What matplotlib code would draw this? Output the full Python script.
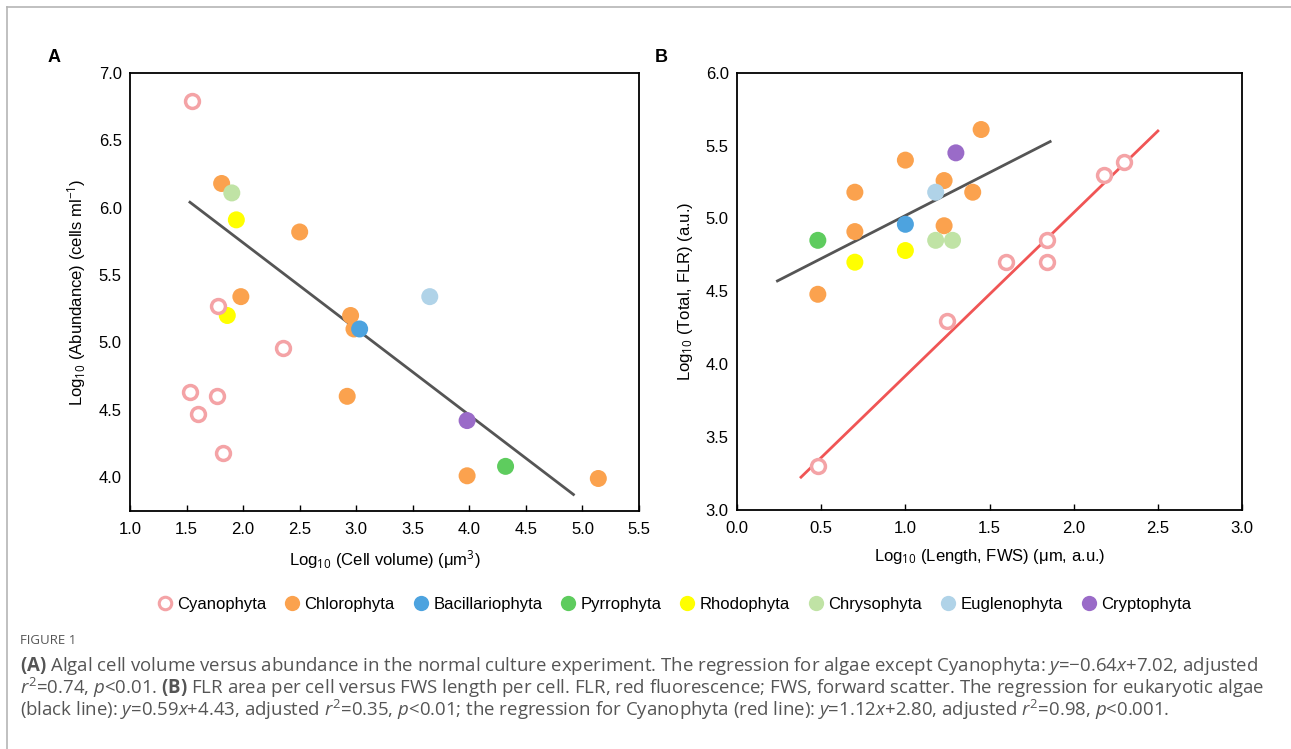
import matplotlib
matplotlib.use("Agg")
import matplotlib.pyplot as plt
from matplotlib.lines import Line2D
import numpy as np

plt.rcParams['font.family'] = ['Liberation Sans', 'DejaVu Sans']
plt.rcParams['mathtext.fontset'] = 'custom'
plt.rcParams['mathtext.rm'] = 'Open Sans'
plt.rcParams['mathtext.it'] = 'Open Sans:italic'
plt.rcParams['mathtext.bf'] = 'Open Sans:bold'

groups = ["Cyanophyta", "Chlorophyta", "Bacillariophyta", "Pyrrophyta",
          "Rhodophyta", "Chrysophyta", "Euglenophyta", "Cryptophyta"]
colors = ["#F4A3A6", "#FBA24E", "#4DA3DF", "#5ECC5E",
          "#FFFF00", "#C0E3A5", "#B0D3E8", "#9A6BC8"]

# panel A: log10 cell volume vs log10 abundance
a_x = {
    "Cyanophyta": [1.55, 1.78, 2.35, 1.53, 1.77, 1.60, 1.82],
    "Chlorophyta": [1.81, 2.50, 1.98, 2.95, 2.98, 2.92, 3.98, 5.14],
    "Bacillariophyta": [3.03],
    "Pyrrophyta": [4.32],
    "Rhodophyta": [1.94, 1.86],
    "Chrysophyta": [1.90],
    "Euglenophyta": [3.65],
    "Cryptophyta": [3.98],
}
a_y = {
    "Cyanophyta": [6.79, 5.27, 4.96, 4.63, 4.60, 4.47, 4.18],
    "Chlorophyta": [6.18, 5.82, 5.34, 5.20, 5.10, 4.60, 4.01, 3.99],
    "Bacillariophyta": [5.10],
    "Pyrrophyta": [4.08],
    "Rhodophyta": [5.91, 5.20],
    "Chrysophyta": [6.11],
    "Euglenophyta": [5.34],
    "Cryptophyta": [4.42],
}
a_fit = (-0.64, 7.02)
a_fit_range = (1.53, 4.92)

# panel B: log10 FWS length vs log10 total FLR
b_x = {
    "Cyanophyta": [0.48, 1.25, 1.60, 1.84, 1.84, 2.18, 2.30],
    "Chlorophyta": [0.48, 0.70, 0.70, 1.00, 1.23, 1.23, 1.40, 1.45],
    "Bacillariophyta": [1.00],
    "Pyrrophyta": [0.48],
    "Rhodophyta": [0.70, 1.00],
    "Chrysophyta": [1.18, 1.28],
    "Euglenophyta": [1.18],
    "Cryptophyta": [1.30],
}
b_y = {
    "Cyanophyta": [3.30, 4.30, 4.70, 4.85, 4.70, 5.30, 5.39],
    "Chlorophyta": [4.48, 5.18, 4.91, 5.40, 5.26, 4.95, 5.18, 5.61],
    "Bacillariophyta": [4.96],
    "Pyrrophyta": [4.85],
    "Rhodophyta": [4.70, 4.78],
    "Chrysophyta": [4.85, 4.85],
    "Euglenophyta": [5.18],
    "Cryptophyta": [5.45],
}
b_fit_euk = (0.59, 4.43)
b_fit_euk_range = (0.24, 1.86)
b_fit_cyano = (1.12, 2.80)
b_fit_cyano_range = (0.38, 2.50)

fig = plt.figure(figsize=(12.91, 7.49), dpi=100)
axA = fig.add_axes([0.1007, 0.318, 0.3943, 0.5845])
axB = fig.add_axes([0.5709, 0.319, 0.3912, 0.584])


def scatter_groups(ax, xs, ys):
    # filled dots below, open cyano circles on top
    for g, c in zip(groups, colors):
        if g == "Cyanophyta":
            ax.scatter(xs[g], ys[g], s=100, facecolors="white", edgecolors=c,
                       linewidths=2.5, zorder=4)
        else:
            ax.scatter(xs[g], ys[g], s=150, color=c, edgecolors="none", zorder=3)


def fit_line(ax, fit, rng, color):
    xx = np.array(rng)
    ax.plot(xx, fit[0] * xx + fit[1], color=color, lw=2, zorder=2)


def style(ax):
    for sp in ax.spines.values():
        sp.set_linewidth(1.3)
        sp.set_color("black")
    ax.tick_params(axis="x", direction="in", length=4, width=1, labelsize=12, pad=8)
    ax.tick_params(axis="y", length=0, labelsize=12, pad=6)


scatter_groups(axA, a_x, a_y)
fit_line(axA, a_fit, a_fit_range, "#555555")
axA.set_xlim(1.0, 5.5)
axA.set_ylim(3.75, 7.0)
axA.set_xticks(np.arange(1.0, 5.51, 0.5))
axA.set_yticks(np.arange(4.0, 7.01, 0.5))
axA.set_xticklabels([f"{v:.1f}" for v in np.arange(1.0, 5.51, 0.5)])
axA.set_yticklabels([f"{v:.1f}" for v in np.arange(4.0, 7.01, 0.5)])
style(axA)
axA.set_xlabel(r"Log$_{10}$ (Cell volume) (μm$^{3}$)", fontsize=12, labelpad=8)
axA.set_ylabel(r"Log$_{10}$ (Abundance) (cells ml$^{-1}$)", fontsize=12, labelpad=8)

scatter_groups(axB, b_x, b_y)
fit_line(axB, b_fit_euk, b_fit_euk_range, "#555555")
fit_line(axB, b_fit_cyano, b_fit_cyano_range, "#F05555")
axB.set_xlim(0.0, 3.0)
axB.set_ylim(3.0, 6.0)
axB.set_xticks(np.arange(0.0, 3.01, 0.5))
axB.set_yticks(np.arange(3.0, 6.01, 0.5))
axB.set_xticklabels([f"{v:.1f}" for v in np.arange(0.0, 3.01, 0.5)])
axB.set_yticklabels([f"{v:.1f}" for v in np.arange(3.0, 6.01, 0.5)])
style(axB)
axB.set_xlabel(r"Log$_{10}$ (Length, FWS) (μm, a.u.)", fontsize=12, labelpad=8)
axB.set_ylabel(r"Log$_{10}$ (Total, FLR) (a.u.)", fontsize=12, labelpad=8)

fig.text(48 / 1291, 1 - 57 / 749, "A", fontsize=13, fontweight="bold", va="center")
fig.text(655 / 1291, 1 - 57 / 749, "B", fontsize=13, fontweight="bold", va="center")

handles = []
for g, c in zip(groups, colors):
    if g == "Cyanophyta":
        handles.append(Line2D([], [], ls="none", marker="o", markersize=9,
                              markerfacecolor="white", markeredgecolor=c,
                              markeredgewidth=2.2))
    else:
        handles.append(Line2D([], [], ls="none", marker="o", markersize=11,
                              markerfacecolor=c, markeredgecolor="none"))
fig.legend(handles, groups, loc="center", bbox_to_anchor=(673 / 1291, 1 - 604 / 749),
           ncol=8, frameon=False, fontsize=12, handletextpad=0.15,
           columnspacing=0.95, handlelength=1.2)

# outer frame lines (top and left)
fig.add_artist(Line2D([7 / 1291, 1], [1 - 7 / 749, 1 - 7 / 749], color="#b5b5b5", lw=1.2))
fig.add_artist(Line2D([7 / 1291, 7 / 1291], [0, 1 - 7 / 749], color="#b5b5b5", lw=1.2))

cap_color = "#555555"
fig.text(20 / 1291, 1 - 641 / 749, "FIGURE 1", fontsize=9.5, color=cap_color,
         family="Open Sans", va="center")
cap_lines = [
    r"$\mathbf{(A)}$ Algal cell volume versus abundance in the normal culture experiment. "
    r"The regression for algae except Cyanophyta: $\mathit{y}$=−0.64$\mathit{x}$+7.02, adjusted",
    r"$\mathit{r}^{2}$=0.74, $\mathit{p}$<0.01. $\mathbf{(B)}$ FLR area per cell versus FWS length per cell. "
    r"FLR, red fluorescence; FWS, forward scatter. The regression for eukaryotic algae",
    r"(black line): $\mathit{y}$=0.59$\mathit{x}$+4.43, adjusted $\mathit{r}^{2}$=0.35, $\mathit{p}$<0.01; "
    r"the regression for Cyanophyta (red line): $\mathit{y}$=1.12$\mathit{x}$+2.80, adjusted "
    r"$\mathit{r}^{2}$=0.98, $\mathit{p}$<0.001.",
]
for i, line in enumerate(cap_lines):
    fig.text(20 / 1291, 1 - (666 + 22 * i) / 749, line, fontsize=13.4,
             color=cap_color, family="Open Sans", va="center")

fig.savefig("out.png", dpi=100, facecolor="white")
